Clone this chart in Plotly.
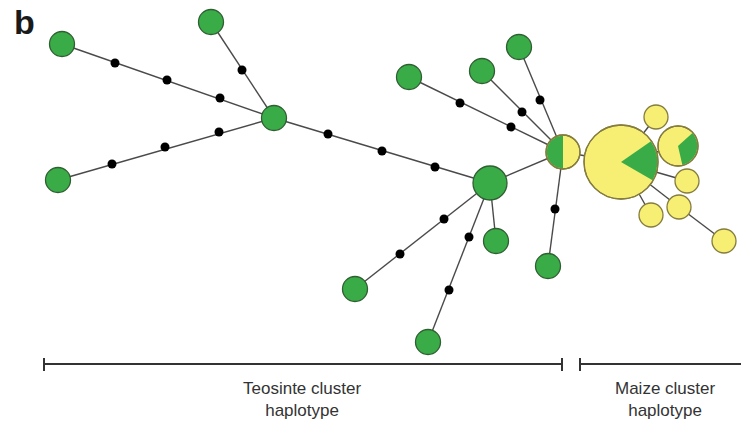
import math
import plotly.graph_objects as go

W, H = 741, 422

# Haplotype nodes (layout position, radius, green fraction, green start angle deg)
node_names = ["A", "B", "C", "D", "E", "F", "G", "H", "I", "J", "K", "L", "M",
              "N", "O", "P", "Q", "R", "S", "T"]
node_x = [62, 211, 58, 274, 490, 563, 409, 482, 519, 548, 355, 428, 496,
          621, 656, 678, 687, 679, 651, 724]
node_y = [44, 22, 180, 118, 183, 152, 77, 71, 47, 266, 289, 342, 241,
          162, 117, 146, 181, 207, 215, 241]
node_r = [12.5, 12.5, 12.5, 12.5, 17, 17, 12.5, 12.5, 12.5, 12.5, 12.5, 12.5, 12.5,
          37, 12, 20, 12, 12, 12, 12]
# fraction of teosinte (green) in each haplotype
green_frac = [1, 1, 1, 1, 1, 0.5, 1, 1, 1, 1, 1, 1, 1,
              0.18, 0, 0.33, 0, 0, 0, 0]
green_start = [0, 0, 0, 0, 0, 90, 0, 0, 0, 0, 0, 0, 0,
               -30, 0, -77, 0, 0, 0, 0]

# Median vectors (missing intermediate haplotypes)
dot_x = [115, 167, 220, 242, 112, 165, 219, 328, 382, 435, 460, 511, 522, 540,
         555, 444, 400, 469, 449]
dot_y = [63, 80, 98, 70, 164, 147, 132, 134, 151, 167, 103, 127, 112, 100,
         209, 219, 254, 237, 290]

# Edges (node-to-node connections)
edges = [("A", "D"), ("B", "D"), ("C", "D"), ("D", "E"), ("E", "F"),
         ("G", "F"), ("H", "F"), ("I", "F"), ("F", "J"), ("E", "K"),
         ("E", "L"), ("E", "M"), ("F", "N"), ("N", "O"), ("N", "P"),
         ("N", "Q"), ("N", "R"), ("N", "S"), ("R", "T")]

# Cluster bars
bar_labels = ["Teosinte cluster<br>haplotype", "Maize cluster<br>haplotype"]
bar_start = [44, 580]
bar_end = [562, 760]
bar_label_x = [302, 665]

GREEN = "#3aac47"
GREEN_LINE = "#2f5f32"
YELLOW = "#f6ef74"
YELLOW_LINE = "#857c3e"
EDGE = "#4a4a4a"

idx = {n: i for i, n in enumerate(node_names)}
fig = go.Figure()

# edges
ex, ey = [], []
for a, b in edges:
    ia, ib = idx[a], idx[b]
    ex += [node_x[ia], node_x[ib], None]
    ey += [node_y[ia], node_y[ib], None]
fig.add_trace(go.Scatter(x=ex, y=ey, mode="lines",
                         line=dict(color=EDGE, width=1.4), hoverinfo="skip"))

# base circles
fills, lines = [], []
for f in green_frac:
    fills.append(GREEN if f >= 1 else YELLOW)
    lines.append(GREEN_LINE if f >= 1 else YELLOW_LINE)
fig.add_trace(go.Scatter(x=node_x, y=node_y, mode="markers",
                         marker=dict(size=[2 * r for r in node_r], color=fills,
                                     opacity=1,
                                     line=dict(color=lines, width=1.3)),
                         hoverinfo="skip"))

# green wedges for mixed haplotypes
for i, f in enumerate(green_frac):
    if 0 < f < 1:
        cx, cy, r = node_x[i], node_y[i], node_r[i] - 0.6
        a0 = green_start[i]
        a1 = a0 + 360 * f
        n = 40
        px, py = [cx], [cy]
        for k in range(n + 1):
            t = math.radians(a0 + (a1 - a0) * k / n)
            px.append(cx + r * math.cos(t))
            py.append(cy - r * math.sin(t))
        px.append(cx)
        py.append(cy)
        fig.add_trace(go.Scatter(x=px, y=py, mode="lines", fill="toself",
                                 fillcolor=GREEN, line=dict(width=0),
                                 hoverinfo="skip"))
        fig.add_trace(go.Scatter(x=[cx], y=[cy], mode="markers",
                                 marker=dict(size=2 * node_r[i], opacity=1,
                                             color="rgba(0,0,0,0)",
                                             line=dict(color=YELLOW_LINE, width=1.3)),
                                 hoverinfo="skip"))

# median vectors
fig.add_trace(go.Scatter(x=dot_x, y=dot_y, mode="markers",
                         marker=dict(size=9, color="#000000", opacity=1),
                         hoverinfo="skip"))

# cluster bars
for s, e in zip(bar_start, bar_end):
    fig.add_trace(go.Scatter(x=[s, e], y=[364, 364], mode="lines",
                             line=dict(color="#333333", width=2), hoverinfo="skip"))
    for xx in (s, e):
        fig.add_trace(go.Scatter(x=[xx, xx], y=[358, 371], mode="lines",
                                 line=dict(color="#333333", width=2), hoverinfo="skip"))

annotations = []
for lab, x in zip(bar_labels, bar_label_x):
    annotations.append(dict(x=x, y=399, xref="x", yref="y", text=lab,
                            showarrow=False, align="center",
                            font=dict(family="Liberation Sans, Arial",
                                      size=17, color="#333333")))
annotations.append(dict(x=24, y=22, xref="x", yref="y", text="<b>b</b>",
                        showarrow=False,
                        font=dict(family="Liberation Sans, Arial", size=34,
                                  color="#1a1a1a")))

fig.update_layout(
    width=W, height=H, margin=dict(l=0, r=0, t=0, b=0),
    paper_bgcolor="white", plot_bgcolor="white", showlegend=False,
    xaxis=dict(range=[0, W], visible=False, fixedrange=True),
    yaxis=dict(range=[H, 0], visible=False, fixedrange=True),
    annotations=annotations,
)
fig.write_html("out.html", config={"displayModeBar": False},
               post_script="document.body.style.margin='0';"
                           "document.body.style.padding='0';"
                           "document.body.style.overflow='hidden';")
